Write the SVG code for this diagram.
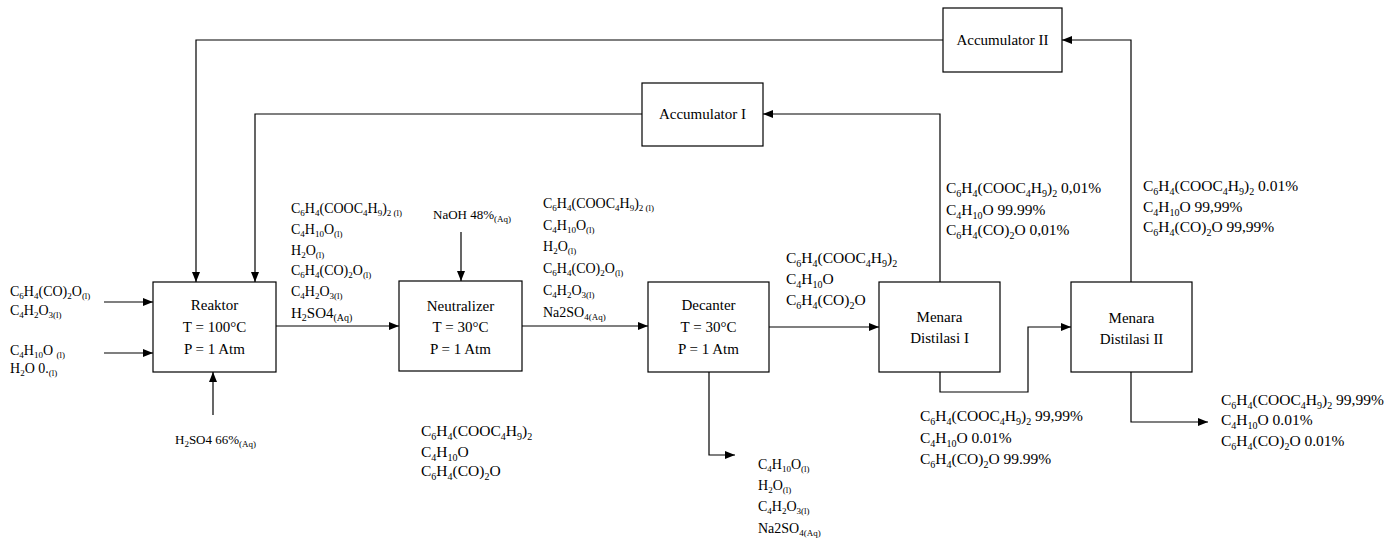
<svg xmlns="http://www.w3.org/2000/svg" width="1397" height="539" viewBox="0 0 1397 539">
<defs>
<style>
text{font-family:"Liberation Serif","Times New Roman",serif;fill:#000}
.b{font-size:15px}
.t{font-size:15.5px}
.m{font-size:14px}
.n{font-size:13px}
.s{font-size:10px}
.ss{font-size:9px}
rect{fill:#fff;stroke:#000;stroke-width:1.2}
.c path{fill:none;stroke:#000;stroke-width:1.2}
</style>
<marker id="ar" markerUnits="userSpaceOnUse" markerWidth="10" markerHeight="8" refX="10" refY="4" orient="auto">
<path d="M0,0 L10,4 L0,8 z" fill="#000"/>
</marker>
</defs>
<rect x="0" y="0" width="1397" height="539" style="fill:#fff;stroke:none"/>

<g class="c" id="connectors">
<path d="M943,40 H196 V282" marker-end="url(#ar)"/>
<path d="M642,114 H255 V282" marker-end="url(#ar)"/>
<path d="M940,282 V114 H763" marker-end="url(#ar)"/>
<path d="M1131,282 V40 H1062" marker-end="url(#ar)"/>
<path d="M940,372 V392 H1028 V327 H1071" marker-end="url(#ar)"/>
<path d="M1131,372 V422 H1208" marker-end="url(#ar)"/>
<path d="M709,372 V455 H735" marker-end="url(#ar)"/>
<path d="M276,326 H399" marker-end="url(#ar)"/>
<path d="M522,326 H648" marker-end="url(#ar)"/>
<path d="M769,327 H879" marker-end="url(#ar)"/>
<path d="M104,302 H153" marker-end="url(#ar)"/>
<path d="M104,353 H153" marker-end="url(#ar)"/>
<path d="M213,415 V372" marker-end="url(#ar)"/>
<path d="M461,232 V281" marker-end="url(#ar)"/>
</g>

<g id="reaktor">
<rect x="153" y="282" width="123" height="90"/>
<text class="b" text-anchor="middle" x="214.5" y="310">Reaktor</text>
<text class="b" text-anchor="middle" x="214.5" y="332">T = 100°C</text>
<text class="b" text-anchor="middle" x="214.5" y="354">P = 1 Atm</text>
</g>
<g id="neutralizer">
<rect x="399" y="281" width="123" height="90"/>
<text class="b" text-anchor="middle" x="460.5" y="311">Neutralizer</text>
<text class="b" text-anchor="middle" x="460.5" y="332">T = 30°C</text>
<text class="b" text-anchor="middle" x="460.5" y="354">P = 1 Atm</text>
</g>
<g id="decanter">
<rect x="648" y="282" width="121" height="90"/>
<text class="b" text-anchor="middle" x="708.5" y="310">Decanter</text>
<text class="b" text-anchor="middle" x="708.5" y="332">T = 30°C</text>
<text class="b" text-anchor="middle" x="708.5" y="354">P = 1 Atm</text>
</g>
<g id="menara1">
<rect x="879" y="282" width="121" height="90"/>
<text class="b" text-anchor="middle" x="939.5" y="322">Menara</text>
<text class="b" text-anchor="middle" x="939.5" y="343">Distilasi I</text>
</g>
<g id="menara2">
<rect x="1071" y="282" width="121" height="90"/>
<text class="b" text-anchor="middle" x="1131.5" y="323">Menara</text>
<text class="b" text-anchor="middle" x="1131.5" y="344">Distilasi II</text>
</g>
<g id="accumulator1">
<rect x="642" y="83" width="121" height="63"/>
<text class="b" text-anchor="middle" x="702.5" y="119">Accumulator I</text>
</g>
<g id="accumulator2">
<rect x="943" y="8" width="119" height="64"/>
<text class="b" text-anchor="middle" x="1002.5" y="45">Accumulator II</text>
</g>

<g id="feed-labels">
<text class="m" x="10" y="296">C<tspan class="ss" dy="3">6</tspan><tspan dy="-3">H</tspan><tspan class="ss" dy="3">4</tspan><tspan dy="-3">(CO)</tspan><tspan class="ss" dy="3">2</tspan><tspan dy="-3">O</tspan><tspan class="ss" dy="3">(l)</tspan></text>
<text class="m" x="10" y="315">C<tspan class="ss" dy="3">4</tspan><tspan dy="-3">H</tspan><tspan class="ss" dy="3">2</tspan><tspan dy="-3">O</tspan><tspan class="ss" dy="3">3(l)</tspan></text>
<text class="m" x="10" y="355">C<tspan class="ss" dy="3">4</tspan><tspan dy="-3">H</tspan><tspan class="ss" dy="3">10</tspan><tspan dy="-3">O </tspan><tspan class="ss" dy="3">(l)</tspan></text>
<text class="m" x="10" y="373">H<tspan class="ss" dy="3">2</tspan><tspan dy="-3">O 0.</tspan><tspan class="ss" dy="3">(l)</tspan></text>
<text class="n" x="175" y="444">H<tspan class="ss" dy="3">2</tspan><tspan dy="-3">SO4 66%</tspan><tspan class="ss" dy="3">(Aq)</tspan></text>
<text class="n" x="433" y="219">NaOH 48%<tspan class="ss" dy="3">(Aq)</tspan></text>
</g>

<g id="stream1-labels">
<text class="m" x="291" y="213">C<tspan class="ss" dy="3">6</tspan><tspan dy="-3">H</tspan><tspan class="ss" dy="3">4</tspan><tspan dy="-3">(COOC</tspan><tspan class="ss" dy="3">4</tspan><tspan dy="-3">H</tspan><tspan class="ss" dy="3">9</tspan><tspan dy="-3">)</tspan><tspan class="ss" dy="3">2 (l)</tspan></text>
<text class="m" x="291" y="234">C<tspan class="ss" dy="3">4</tspan><tspan dy="-3">H</tspan><tspan class="ss" dy="3">10</tspan><tspan dy="-3">O</tspan><tspan class="ss" dy="3">(l)</tspan></text>
<text class="m" x="291" y="255">H<tspan class="ss" dy="3">2</tspan><tspan dy="-3">O</tspan><tspan class="ss" dy="3">(l)</tspan></text>
<text class="m" x="291" y="275">C<tspan class="ss" dy="3">6</tspan><tspan dy="-3">H</tspan><tspan class="ss" dy="3">4</tspan><tspan dy="-3">(CO)</tspan><tspan class="ss" dy="3">2</tspan><tspan dy="-3">O</tspan><tspan class="ss" dy="3">(l)</tspan></text>
<text class="m" x="291" y="296">C<tspan class="ss" dy="3">4</tspan><tspan dy="-3">H</tspan><tspan class="ss" dy="3">2</tspan><tspan dy="-3">O</tspan><tspan class="ss" dy="3">3(l)</tspan></text>
<text class="b" x="291" y="318">H<tspan class="s" dy="3">2</tspan><tspan dy="-3">SO4</tspan><tspan class="s" dy="3">(Aq)</tspan></text>
</g>

<g id="stream2-labels">
<text class="m" x="543" y="208">C<tspan class="ss" dy="3">6</tspan><tspan dy="-3">H</tspan><tspan class="ss" dy="3">4</tspan><tspan dy="-3">(COOC</tspan><tspan class="ss" dy="3">4</tspan><tspan dy="-3">H</tspan><tspan class="ss" dy="3">9</tspan><tspan dy="-3">)</tspan><tspan class="ss" dy="3">2 (l)</tspan></text>
<text class="m" x="543" y="230">C<tspan class="ss" dy="3">4</tspan><tspan dy="-3">H</tspan><tspan class="ss" dy="3">10</tspan><tspan dy="-3">O</tspan><tspan class="ss" dy="3">(l)</tspan></text>
<text class="m" x="543" y="251">H<tspan class="ss" dy="3">2</tspan><tspan dy="-3">O</tspan><tspan class="ss" dy="3">(l)</tspan></text>
<text class="m" x="543" y="273">C<tspan class="ss" dy="3">6</tspan><tspan dy="-3">H</tspan><tspan class="ss" dy="3">4</tspan><tspan dy="-3">(CO)</tspan><tspan class="ss" dy="3">2</tspan><tspan dy="-3">O</tspan><tspan class="ss" dy="3">(l)</tspan></text>
<text class="m" x="543" y="295">C<tspan class="ss" dy="3">4</tspan><tspan dy="-3">H</tspan><tspan class="ss" dy="3">2</tspan><tspan dy="-3">O</tspan><tspan class="ss" dy="3">3(l)</tspan></text>
<text class="m" x="543" y="317">Na2SO<tspan class="ss" dy="3">4(Aq)</tspan></text>
</g>

<g id="stream3-labels">
<text class="t" x="786" y="263">C<tspan class="s" dy="3.5">6</tspan><tspan dy="-3.5">H</tspan><tspan class="s" dy="3.5">4</tspan><tspan dy="-3.5">(COOC</tspan><tspan class="s" dy="3.5">4</tspan><tspan dy="-3.5">H</tspan><tspan class="s" dy="3.5">9</tspan><tspan dy="-3.5">)</tspan><tspan class="s" dy="3.5">2</tspan></text>
<text class="t" x="786" y="284">C<tspan class="s" dy="3.5">4</tspan><tspan dy="-3.5">H</tspan><tspan class="s" dy="3.5">10</tspan><tspan dy="-3.5">O</tspan></text>
<text class="t" x="786" y="305">C<tspan class="s" dy="3.5">6</tspan><tspan dy="-3.5">H</tspan><tspan class="s" dy="3.5">4</tspan><tspan dy="-3.5">(CO)</tspan><tspan class="s" dy="3.5">2</tspan><tspan dy="-3.5">O</tspan></text>
</g>

<g id="neutralizer-bottom-labels">
<text class="t" x="421" y="436">C<tspan class="s" dy="3.5">6</tspan><tspan dy="-3.5">H</tspan><tspan class="s" dy="3.5">4</tspan><tspan dy="-3.5">(COOC</tspan><tspan class="s" dy="3.5">4</tspan><tspan dy="-3.5">H</tspan><tspan class="s" dy="3.5">9</tspan><tspan dy="-3.5">)</tspan><tspan class="s" dy="3.5">2</tspan></text>
<text class="t" x="421" y="457">C<tspan class="s" dy="3.5">4</tspan><tspan dy="-3.5">H</tspan><tspan class="s" dy="3.5">10</tspan><tspan dy="-3.5">O</tspan></text>
<text class="t" x="421" y="476">C<tspan class="s" dy="3.5">6</tspan><tspan dy="-3.5">H</tspan><tspan class="s" dy="3.5">4</tspan><tspan dy="-3.5">(CO)</tspan><tspan class="s" dy="3.5">2</tspan><tspan dy="-3.5">O</tspan></text>
</g>

<g id="decanter-bottom-labels">
<text class="m" x="758" y="469">C<tspan class="ss" dy="3">4</tspan><tspan dy="-3">H</tspan><tspan class="ss" dy="3">10</tspan><tspan dy="-3">O</tspan><tspan class="ss" dy="3">(l)</tspan></text>
<text class="m" x="758" y="490">H<tspan class="ss" dy="3">2</tspan><tspan dy="-3">O</tspan><tspan class="ss" dy="3">(l)</tspan></text>
<text class="m" x="758" y="511">C<tspan class="ss" dy="3">4</tspan><tspan dy="-3">H</tspan><tspan class="ss" dy="3">2</tspan><tspan dy="-3">O</tspan><tspan class="ss" dy="3">3(l)</tspan></text>
<text class="m" x="758" y="533">Na2SO<tspan class="ss" dy="3">4(Aq)</tspan></text>
</g>

<g id="menara1-top-labels">
<text class="t" x="946" y="193">C<tspan class="s" dy="3.5">6</tspan><tspan dy="-3.5">H</tspan><tspan class="s" dy="3.5">4</tspan><tspan dy="-3.5">(COOC</tspan><tspan class="s" dy="3.5">4</tspan><tspan dy="-3.5">H</tspan><tspan class="s" dy="3.5">9</tspan><tspan dy="-3.5">)</tspan><tspan class="s" dy="3.5">2</tspan><tspan dy="-3.5"> 0,01%</tspan></text>
<text class="t" x="946" y="215">C<tspan class="s" dy="3.5">4</tspan><tspan dy="-3.5">H</tspan><tspan class="s" dy="3.5">10</tspan><tspan dy="-3.5">O 99.99%</tspan></text>
<text class="t" x="946" y="235">C<tspan class="s" dy="3.5">6</tspan><tspan dy="-3.5">H</tspan><tspan class="s" dy="3.5">4</tspan><tspan dy="-3.5">(CO)</tspan><tspan class="s" dy="3.5">2</tspan><tspan dy="-3.5">O 0,01%</tspan></text>
</g>

<g id="menara1-bottom-labels">
<text class="t" x="920" y="421">C<tspan class="s" dy="3.5">6</tspan><tspan dy="-3.5">H</tspan><tspan class="s" dy="3.5">4</tspan><tspan dy="-3.5">(COOC</tspan><tspan class="s" dy="3.5">4</tspan><tspan dy="-3.5">H</tspan><tspan class="s" dy="3.5">9</tspan><tspan dy="-3.5">)</tspan><tspan class="s" dy="3.5">2</tspan><tspan dy="-3.5">  99,99%</tspan></text>
<text class="t" x="920" y="443">C<tspan class="s" dy="3.5">4</tspan><tspan dy="-3.5">H</tspan><tspan class="s" dy="3.5">10</tspan><tspan dy="-3.5">O 0.01%</tspan></text>
<text class="t" x="920" y="464">C<tspan class="s" dy="3.5">6</tspan><tspan dy="-3.5">H</tspan><tspan class="s" dy="3.5">4</tspan><tspan dy="-3.5">(CO)</tspan><tspan class="s" dy="3.5">2</tspan><tspan dy="-3.5">O 99.99%</tspan></text>
</g>

<g id="menara2-top-labels">
<text class="t" x="1143" y="191">C<tspan class="s" dy="3.5">6</tspan><tspan dy="-3.5">H</tspan><tspan class="s" dy="3.5">4</tspan><tspan dy="-3.5">(COOC</tspan><tspan class="s" dy="3.5">4</tspan><tspan dy="-3.5">H</tspan><tspan class="s" dy="3.5">9</tspan><tspan dy="-3.5">)</tspan><tspan class="s" dy="3.5">2</tspan><tspan dy="-3.5"> 0.01%</tspan></text>
<text class="t" x="1143" y="212">C<tspan class="s" dy="3.5">4</tspan><tspan dy="-3.5">H</tspan><tspan class="s" dy="3.5">10</tspan><tspan dy="-3.5">O 99,99%</tspan></text>
<text class="t" x="1143" y="232">C<tspan class="s" dy="3.5">6</tspan><tspan dy="-3.5">H</tspan><tspan class="s" dy="3.5">4</tspan><tspan dy="-3.5">(CO)</tspan><tspan class="s" dy="3.5">2</tspan><tspan dy="-3.5">O 99,99%</tspan></text>
</g>

<g id="menara2-bottom-labels">
<text class="t" x="1221" y="405">C<tspan class="s" dy="3.5">6</tspan><tspan dy="-3.5">H</tspan><tspan class="s" dy="3.5">4</tspan><tspan dy="-3.5">(COOC</tspan><tspan class="s" dy="3.5">4</tspan><tspan dy="-3.5">H</tspan><tspan class="s" dy="3.5">9</tspan><tspan dy="-3.5">)</tspan><tspan class="s" dy="3.5">2</tspan><tspan dy="-3.5"> 99,99%</tspan></text>
<text class="t" x="1221" y="425">C<tspan class="s" dy="3.5">4</tspan><tspan dy="-3.5">H</tspan><tspan class="s" dy="3.5">10</tspan><tspan dy="-3.5">O 0.01%</tspan></text>
<text class="t" x="1221" y="446">C<tspan class="s" dy="3.5">6</tspan><tspan dy="-3.5">H</tspan><tspan class="s" dy="3.5">4</tspan><tspan dy="-3.5">(CO)</tspan><tspan class="s" dy="3.5">2</tspan><tspan dy="-3.5">O 0.01%</tspan></text>
</g>
</svg>
